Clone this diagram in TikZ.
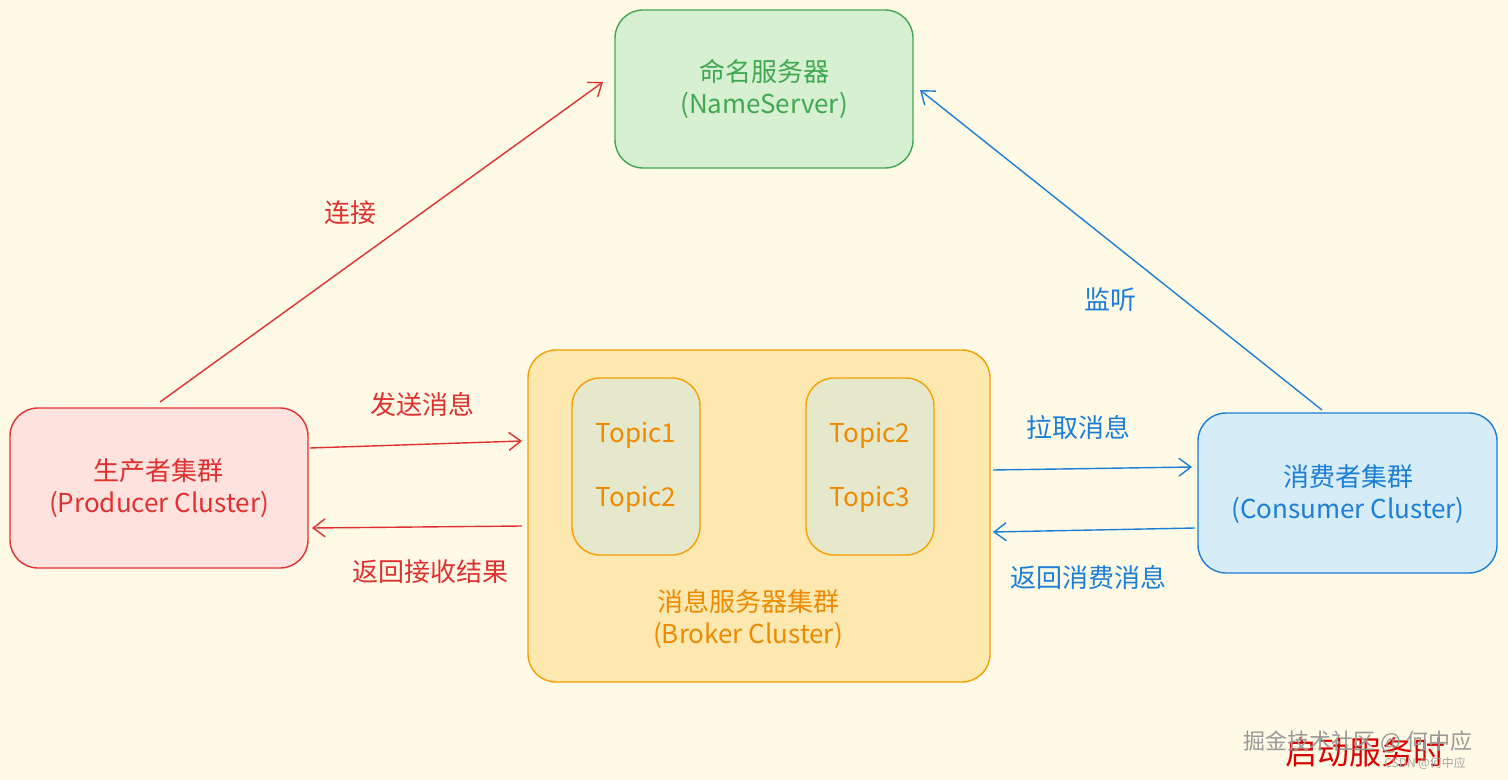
\documentclass[tikz,border=0pt]{standalone}
\usepackage{fontspec}
\setmainfont{Noto Sans CJK SC}
\usetikzlibrary{arrows.meta}
\definecolor{bg}{HTML}{FEFAE6}
\definecolor{gF}{HTML}{D8F0D2}\definecolor{gD}{HTML}{40A850}
\definecolor{rF}{HTML}{FDE2DE}\definecolor{rD}{HTML}{E03131}
\definecolor{oF}{HTML}{FDE9B0}\definecolor{oD}{HTML}{F59F00}\definecolor{oT}{HTML}{EE8A00}
\definecolor{tF}{HTML}{E6E8CC}
\definecolor{bF}{HTML}{D6ECF6}\definecolor{bD}{HTML}{1C7ED6}
\tikzset{
 box/.style={rounded corners=14pt,line width=0.7pt,inner sep=0pt},
 lab/.style={font=\fontsize{13}{16}\selectfont,align=center},
 arr/.style={line width=0.7pt,-{Straight Barb[length=6pt,width=9pt]}},
}
\begin{document}
\begin{tikzpicture}[x=0.5pt,y=-0.5pt]
\fill[bg] (0,0) rectangle (1508,780);
\useasboundingbox (0,0) rectangle (1508,780);
% boxes
\draw[box,draw=gD,fill=gF] (615,10) rectangle (913,168);
\node[lab,text=gD] (ns) at (764,89) {命名服务器\\(NameServer)};
\draw[box,draw=rD,fill=rF] (10,408) rectangle (308,568);
\node[lab,text=rD] (pc) at (159,488) {生产者集群\\(Producer Cluster)};
\draw[box,draw=oD,fill=oF] (528,350) rectangle (990,682);
\node[lab,text=oT] (bc) at (748,619) {消息服务器集群\\(Broker Cluster)};
\draw[box,draw=oD,fill=tF] (572,378) rectangle (700,555);
\draw[box,draw=oD,fill=tF] (806,378) rectangle (934,555);
\node[lab,text=oT] (t1) at (636,435) {Topic1};
\node[lab,text=oT] (t2) at (636,499) {Topic2};
\node[lab,text=oT] (t3) at (870,435) {Topic2};
\node[lab,text=oT] (t4) at (870,499) {Topic3};
\draw[box,draw=bD,fill=bF] (1198,413) rectangle (1497,573);
\node[lab,text=bD] (cc) at (1348,494) {消费者集群\\(Consumer Cluster)};
% anchors
\coordinate (p1) at (160,402); \coordinate (n1) at (603,82);
\coordinate (p2) at (310,448); \coordinate (b2) at (522,441);
\coordinate (b3) at (522,526); \coordinate (p3) at (312,528);
\coordinate (b4) at (993,470); \coordinate (c4) at (1192,467);
\coordinate (c5) at (1195,528); \coordinate (b5) at (993,532);
\coordinate (c6) at (1322,410); \coordinate (n6) at (920,90);
\draw[arr,rD] (p1) -- (n1);
\draw[arr,rD] (p2) -- (b2);
\draw[arr,rD] (b3) -- (p3);
\draw[arr,bD] (b4) -- (c4);
\draw[arr,bD] (c5) -- (b5);
\draw[arr,bD] (c6) -- (n6);
\node[lab,text=rD] (l1) at (350,213) {连接};
\node[lab,text=rD] (l2) at (422,405) {发送消息};
\node[lab,text=rD] (l3) at (430,572) {返回接收结果};
\node[lab,text=bD] (l4) at (1078,427) {拉取消息};
\node[lab,text=bD] (l5) at (1088,577) {返回消费消息};
\node[lab,text=bD] (l6) at (1110,300) {监听};
% watermark
\node[lab,text=red!85!black,font=\fontsize{16}{18}\selectfont] (w1) at (1365,752) {启动服务时};
\node[lab,text=gray!80,font=\fontsize{11}{13}\selectfont] (w2) at (1358,742) {掘金技术社区 @ 何中应};
\node[text=gray!70,font=\fontsize{6}{7}\selectfont] (w3) at (1425,763) {CSDN @何中应};
\end{tikzpicture}
\end{document}
